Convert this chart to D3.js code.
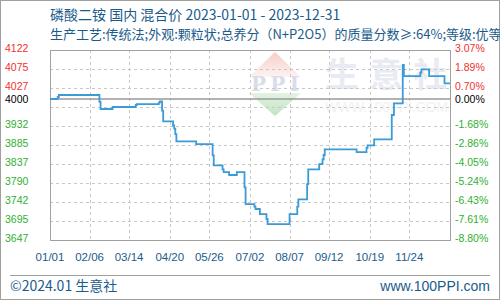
<!DOCTYPE html>
<html>
<head>
<meta charset="utf-8">
<script src="https://cdn.jsdelivr.net/npm/d3@7"></script>
<style>
  body { margin: 0; background: #fff; }
  svg { display: block; }
</style>
</head>
<body>
<svg id="chart" width="500" height="300"></svg>
<script>
// price change points (step line)
const dates = [
  "2023-01-01", "2023-01-08", "2023-01-09", "2023-02-15", "2023-02-16",
  "2023-02-27", "2023-03-20", "2023-03-21", "2023-04-10", "2023-04-11",
  "2023-04-13", "2023-04-14", "2023-04-23", "2023-04-24", "2023-04-25",
  "2023-04-26", "2023-05-14", "2023-05-29", "2023-05-30", "2023-06-07",
  "2023-06-08", "2023-06-13", "2023-06-20", "2023-06-27", "2023-06-28",
  "2023-07-06", "2023-07-07", "2023-07-11", "2023-07-17", "2023-07-18",
  "2023-08-07", "2023-08-14", "2023-08-15", "2023-08-23", "2023-08-24",
  "2023-09-03", "2023-09-06", "2023-09-07", "2023-09-08", "2023-10-07",
  "2023-10-16", "2023-10-17", "2023-10-23", "2023-11-08", "2023-11-10",
  "2023-11-18", "2023-11-19", "2023-12-04", "2023-12-05", "2023-12-12",
  "2023-12-26", "2023-12-31"
];
const prices = [
  4000, 4005, 4010, 3993, 3975,
  3980, 3985, 3987, 3991, 3994,
  3971, 3944, 3934, 3926, 3912,
  3894, 3887, 3859, 3834, 3824,
  3817, 3810, 3817, 3779, 3737,
  3731, 3725, 3712, 3700, 3687,
  3712, 3731, 3749, 3787, 3824,
  3837, 3849, 3860, 3874, 3867,
  3878, 3884, 3899, 3960, 3989,
  4085, 4057, 4066, 4074, 4057,
  4039, 4039
];

const basePrice = 4000;
const yTickValues = [3647.5, 3695, 3742.5, 3790, 3837.5, 3885, 3932.5, 3980, 4027.5, 4075, 4122.5];
const yTickLabels = ["3647", "3695", "3742", "3790", "3837", "3885", "3932", "", "4027", "4075", "4122"];
const pctLabels = ["-8.80%", "-7.61%", "-6.43%", "-5.24%", "-4.05%", "-2.86%", "-1.68%", "", "0.70%", "1.89%", "3.07%"];
const xTickDates = ["2023-01-01", "2023-02-06", "2023-03-14", "2023-04-20", "2023-05-26",
  "2023-07-02", "2023-08-07", "2023-09-12", "2023-10-19", "2023-11-24"];
const xTickLabels = ["01/01", "02/06", "03/14", "04/20", "05/26", "07/02", "08/07", "09/12", "10/19", "11/24"];

const titleText = "磷酸二铵 国内 混合价 2023-01-01 - 2023-12-31";
const subtitleText = "生产工艺:传统法;外观:颗粒状;总养分（N+P2O5）的质量分数≥:64%;等级:优等品";

const parse = d3.timeParse("%Y-%m-%d");
const data = dates.map((d, i) => ({ date: parse(d), value: prices[i] }));

const svg = d3.select("#chart");
const pLeft = 50, pRight = 450, pTop = 50, pBottom = 240;
const blue = "#1a5b8c";
const cjk = "'Noto Sans CJK SC', 'Liberation Sans', sans-serif";
const num = "'Liberation Sans', Arial, sans-serif";

const x = d3.scaleTime()
  .domain([parse("2023-01-01"), parse("2023-12-31")])
  .range([pLeft, pRight]);
const y = d3.scaleLinear()
  .domain([3647.5, 4122.5])
  .range([pBottom, pTop]);

// outer frame
svg.append("rect")
  .attr("x", 0.5).attr("y", 0.5).attr("width", 499).attr("height", 299)
  .attr("fill", "#fff").attr("stroke", "#a0a0a0");

// watermark
const defs = svg.append("defs");
const gr = defs.append("linearGradient").attr("id", "wmRed").attr("x1", 0).attr("y1", 0).attr("x2", 0).attr("y2", 1);
gr.append("stop").attr("offset", "0%").attr("stop-color", "#f4b8ae");
gr.append("stop").attr("offset", "100%").attr("stop-color", "#fdf0ee");
const gg = defs.append("linearGradient").attr("id", "wmGreen").attr("x1", 0).attr("y1", 0).attr("x2", 0).attr("y2", 1);
gg.append("stop").attr("offset", "0%").attr("stop-color", "#d8eed8");
gg.append("stop").attr("offset", "100%").attr("stop-color", "#a8d8a8");

const wm = svg.append("g").attr("opacity", 0.7);
wm.append("path").attr("d", "M275,52 L301,77 L249,77 Z").attr("fill", "url(#wmRed)");
wm.append("path").attr("d", "M249,93 L301,93 L275,116 Z").attr("fill", "url(#wmGreen)");
wm.append("text").attr("x", 275).attr("y", 91).attr("text-anchor", "middle")
  .attr("font-family", "'DejaVu Serif', serif").attr("font-weight", "bold")
  .attr("font-size", 20).attr("fill", "#c9cfe2").attr("textLength", 48).text("PPI");
wm.append("text").attr("x", 325).attr("y", 87)
  .attr("font-family", cjk).attr("font-weight", "bold").attr("font-size", 34)
  .attr("fill", "#dfe3ee").attr("textLength", 122).text("生意社");
wm.append("text").attr("x", 325).attr("y", 112)
  .attr("font-family", num).attr("font-size", 14)
  .attr("fill", "#ececec").attr("textLength", 123).text("WWW.100PPI.COM");

// grid
const dash = "3,3";
svg.append("g").selectAll("line").data(yTickValues.slice(1, -1))
  .join("line")
  .attr("x1", pLeft).attr("x2", pRight)
  .attr("y1", d => Math.round(y(d)) + 0.5).attr("y2", d => Math.round(y(d)) + 0.5)
  .attr("stroke", "#c8c8c8").attr("stroke-dasharray", dash);
svg.append("g").selectAll("line").data(xTickDates.slice(1))
  .join("line")
  .attr("x1", d => Math.round(x(parse(d))) + 0.5).attr("x2", d => Math.round(x(parse(d))) + 0.5)
  .attr("y1", pTop).attr("y2", pBottom)
  .attr("stroke", "#c8c8c8").attr("stroke-dasharray", dash);

// base line
svg.append("line")
  .attr("x1", pLeft).attr("x2", pRight)
  .attr("y1", y(basePrice)).attr("y2", y(basePrice))
  .attr("stroke", "#999").attr("stroke-width", 1.5);

// frame of plot
svg.append("rect")
  .attr("x", pLeft + 0.5).attr("y", pTop + 0.5)
  .attr("width", pRight - pLeft).attr("height", pBottom - pTop)
  .attr("fill", "none").attr("stroke", "#a0a0a0");

// price line
const line = d3.line()
  .x(d => x(d.date))
  .y(d => y(d.value))
  .curve(d3.curveStepAfter);
svg.append("path")
  .datum(data)
  .attr("d", line)
  .attr("fill", "none")
  .attr("stroke", "#3a9bd8")
  .attr("stroke-width", 1.8);

// y labels
const colorFor = v => v > basePrice ? "#f03030" : (v < basePrice ? "#30b030" : "#000");
const yl = svg.append("g").attr("font-family", num).attr("font-size", 10.5);
yl.selectAll("text.l").data(yTickValues)
  .join("text").attr("class", "l")
  .attr("x", 5).attr("y", d => y(d) - 1.5).attr("dy", "0.35em")
  .attr("fill", colorFor)
  .text((d, i) => yTickLabels[i]);
yl.selectAll("text.r").data(yTickValues)
  .join("text").attr("class", "r")
  .attr("x", 455).attr("y", d => y(d) - 1.5).attr("dy", "0.35em")
  .attr("fill", colorFor)
  .text((d, i) => pctLabels[i]);
yl.append("text").attr("x", 5).attr("y", y(basePrice)).attr("dy", "0.35em")
  .attr("fill", "#000").text("4000");
yl.append("text").attr("x", 455).attr("y", y(basePrice)).attr("dy", "0.35em")
  .attr("fill", "#000").text("0.00%");

// x labels
svg.append("g").selectAll("text").data(xTickDates)
  .join("text")
  .attr("x", d => x(parse(d))).attr("y", 261)
  .attr("text-anchor", "middle")
  .attr("font-family", num).attr("font-size", 11.5)
  .attr("fill", blue)
  .text((d, i) => xTickLabels[i]);

// titles
svg.append("text").attr("x", 50).attr("y", 20)
  .attr("font-family", cjk).attr("font-size", 14).attr("fill", blue)
  .text(titleText);
svg.append("text").attr("x", 50).attr("y", 39)
  .attr("font-family", cjk).attr("font-size", 13).attr("fill", blue)
  .text(subtitleText);

// footer
svg.append("line").attr("x1", 10).attr("x2", 490).attr("y1", 275.5).attr("y2", 275.5)
  .attr("stroke", "#a0a0a0");
svg.append("text").attr("x", 10).attr("y", 291)
  .attr("font-family", cjk).attr("font-size", 14).attr("fill", blue)
  .text("©2024.01 生意社");
svg.append("text").attr("x", 490).attr("y", 291).attr("text-anchor", "end")
  .attr("font-family", num).attr("font-size", 14).attr("fill", blue)
  .text("www.100PPI.com");
</script>
</body>
</html>
